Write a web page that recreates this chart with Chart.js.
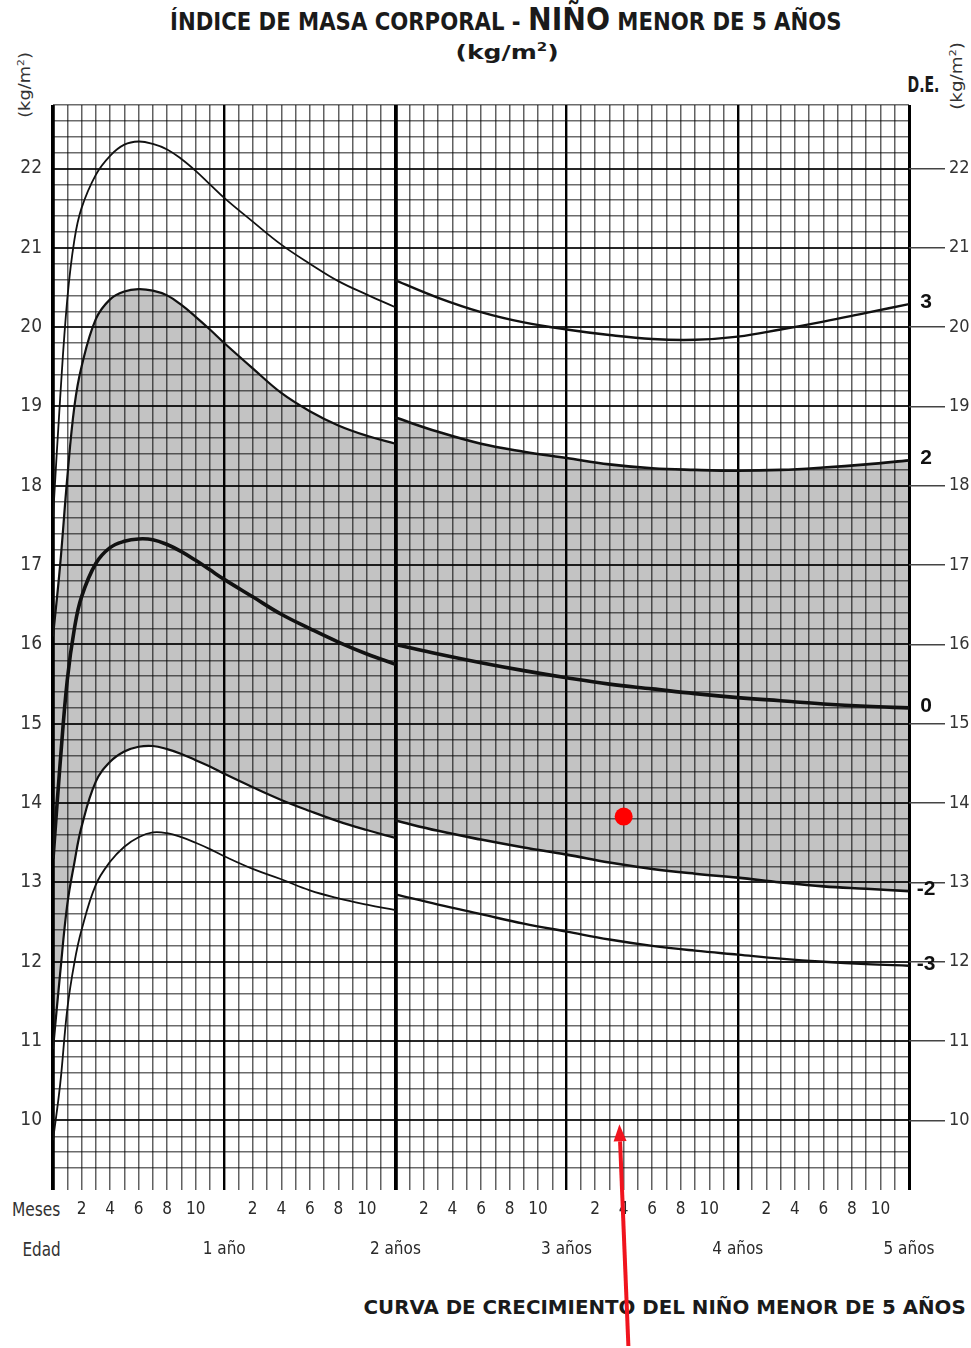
<!DOCTYPE html>
<html lang="es">
<head>
<meta charset="utf-8">
<title>Índice de masa corporal - niño menor de 5 años</title>
<script src="https://cdn.jsdelivr.net/npm/chart.js@4"></script>
<style>
  html, body { margin: 0; padding: 0; background: #fff; }
  body { width: 971px; height: 1348px; position: relative; overflow: hidden; }
  #grafico { position: absolute; left: 0; top: 0; z-index: 1; }
  .txt {
    position: absolute; white-space: nowrap; z-index: 0; color: #1a1a1a; line-height: 1;
    font-family: 'Liberation Sans Narrow', 'DejaVu Sans Condensed', 'Liberation Sans', Arial, sans-serif;
  }
  .tit { font-size: 24px; font-weight: bold; }
  .tit .nino { font-size: 32px; font-weight: 900; }
  .uni { font-size: 20px; font-weight: bold; }
  .lat { font-size: 15px; color: #333; }
  .de { font-size: 21px; font-weight: bold; }
  .eje { font-size: 20px; color: #333; }
  .pie { font-size: 19px; font-weight: bold; font-family: 'DejaVu Sans', 'Liberation Sans', Arial, sans-serif; }
  sup { font-size: 60%; }
</style>
</head>
<body>
<div id="titulo" class="txt tit">ÍNDICE DE MASA CORPORAL - <span class="nino">NIÑO</span> MENOR DE 5 AÑOS</div>
<div id="unidad" class="txt uni">(kg/m<sup>2</sup>)</div>
<div id="ejeIzq" class="txt lat">(kg/m<sup>2</sup>)</div>
<div id="ejeDer" class="txt lat">(kg/m<sup>2</sup>)</div>
<div id="de" class="txt de">D.E.</div>
<div id="meses" class="txt eje">Meses</div>
<div id="edad" class="txt eje">Edad</div>
<div id="pie" class="txt pie">CURVA DE CRECIMIENTO DEL NIÑO MENOR DE 5 AÑOS</div>
<canvas id="grafico" width="971" height="1348"></canvas>
<script>
// edades en meses, tramo 0-2 años (longitud) y tramo 2-5 años (talla)
const mesesA = [0, 0.5, 1, 1.5, 2, 3, 4, 5, 6, 7, 8, 9, 10, 11, 12, 14, 16, 18, 20, 22, 24];
const de3A = [17.6, 19.1, 20.35, 21.1, 21.5, 21.92, 22.16, 22.3, 22.34, 22.31, 22.24, 22.12, 21.97, 21.8, 21.63, 21.33, 21.04, 20.8, 20.58, 20.41, 20.25];
const de2A = [16.1, 17.0, 18.1, 19.0, 19.5, 20.1, 20.35, 20.45, 20.48, 20.46, 20.4, 20.28, 20.13, 19.97, 19.8, 19.48, 19.17, 18.94, 18.76, 18.63, 18.53];
const de0A = [13.3, 14.5, 15.55, 16.2, 16.6, 17.02, 17.22, 17.3, 17.33, 17.32, 17.26, 17.17, 17.06, 16.94, 16.82, 16.6, 16.38, 16.2, 16.03, 15.88, 15.75];
const deM2A = [10.9, 11.85, 12.72, 13.25, 13.7, 14.27, 14.52, 14.65, 14.71, 14.72, 14.68, 14.62, 14.54, 14.46, 14.37, 14.2, 14.04, 13.9, 13.77, 13.66, 13.56];
const deM3A = [9.75, 10.45, 11.4, 11.99, 12.4, 12.97, 13.26, 13.45, 13.57, 13.63, 13.62, 13.57, 13.5, 13.42, 13.33, 13.17, 13.04, 12.9, 12.8, 12.72, 12.65];

const mesesB = [24, 27, 30, 33, 36, 39, 42, 45, 48, 51, 54, 57, 60];
const de3B = [20.59, 20.37, 20.19, 20.06, 19.97, 19.9, 19.85, 19.84, 19.88, 19.97, 20.07, 20.18, 20.29];
const de2B = [18.86, 18.68, 18.53, 18.43, 18.35, 18.27, 18.22, 18.2, 18.19, 18.2, 18.23, 18.27, 18.32];
const de0B = [16.0, 15.88, 15.77, 15.67, 15.58, 15.5, 15.44, 15.38, 15.33, 15.29, 15.25, 15.22, 15.2];
const deM2B = [13.78, 13.65, 13.54, 13.44, 13.35, 13.25, 13.17, 13.11, 13.06, 13.0, 12.95, 12.92, 12.89];
const deM3B = [12.85, 12.72, 12.6, 12.48, 12.38, 12.28, 12.2, 12.14, 12.09, 12.04, 12.0, 11.97, 11.95];

const etiquetasDE = ['3', '2', '0', '-2', '-3'];
const etiquetasMes = ['2', '4', '6', '8', '10'];
const etiquetasAnio = ['1 año', '2 años', '3 años', '4 años', '5 años'];

// punto marcado y flecha roja
const edadPunto = [40];
const imcPunto = [13.83];
const flechaEdad = 39.7;
const flechaImc = 9.95;

const fuenteEstrecha = "'Liberation Sans Narrow', 'DejaVu Sans Condensed', 'Liberation Sans', Arial, sans-serif";
const gris = '#c3c3c3';
const negro = '#111';

function serie(meses, valores) {
  return meses.map((m, i) => ({ x: m, y: valores[i] }));
}

function curva(meses, valores, ancho, extra) {
  return Object.assign({
    data: serie(meses, valores),
    borderColor: negro,
    borderWidth: ancho,
    pointRadius: 0,
    fill: false,
    tension: 0.4
  }, extra || {});
}

function esEntero(v) {
  return Math.abs(v - Math.round(v)) < 1e-6;
}

const rotulos = {
  id: 'rotulos',
  afterDatasetsDraw(chart) {
    const ctx = chart.ctx;
    ctx.save();
    ctx.font = "bold 21px 'Liberation Sans', Arial, sans-serif";
    ctx.fillStyle = '#111';
    ctx.textAlign = 'center';
    ctx.textBaseline = 'middle';
    chart.data.datasets.forEach((ds, i) => {
      if (!ds.rotulo) return;
      const pts = chart.getDatasetMeta(i).data;
      const p = pts[pts.length - 1];
      ctx.fillText(ds.rotulo, p.x + 17, p.y - 2);
    });
    ctx.restore();
  },
  afterDraw(chart) {
    const ctx = chart.ctx;
    const xp = chart.scales.x.getPixelForValue(flechaEdad);
    const yp = chart.scales.y.getPixelForValue(flechaImc);
    const xc = xp + 9;
    const yc = chart.height - 2;
    const ang = Math.atan2(yp - yc, xp - xc);
    const largo = 17;
    const bx = xp - Math.cos(ang) * largo;
    const by = yp - Math.sin(ang) * largo;
    ctx.save();
    ctx.strokeStyle = '#f0141e';
    ctx.fillStyle = '#f0141e';
    ctx.lineWidth = 4;
    ctx.beginPath();
    ctx.moveTo(xc, yc);
    ctx.lineTo(bx, by);
    ctx.stroke();
    ctx.beginPath();
    ctx.moveTo(xp, yp);
    ctx.lineTo(bx + Math.sin(ang) * 6.5, by - Math.cos(ang) * 6.5);
    ctx.lineTo(bx - Math.sin(ang) * 6.5, by + Math.cos(ang) * 6.5);
    ctx.closePath();
    ctx.fill();
    ctx.restore();
  }
};

const datasets = [
  curva(mesesA, de3A, 1.8),
  curva(mesesA, de2A, 2.2, { fill: 3, backgroundColor: gris }),
  curva(mesesA, de0A, 3.6),
  curva(mesesA, deM2A, 2.2),
  curva(mesesA, deM3A, 1.8),
  curva(mesesB, de3B, 2.4, { rotulo: etiquetasDE[0] }),
  curva(mesesB, de2B, 2.6, { fill: 8, backgroundColor: gris, rotulo: etiquetasDE[1] }),
  curva(mesesB, de0B, 3.6, { rotulo: etiquetasDE[2] }),
  curva(mesesB, deM2B, 2.6, { rotulo: etiquetasDE[3] }),
  curva(mesesB, deM3B, 2.4, { rotulo: etiquetasDE[4] }),
  {
    type: 'scatter',
    data: serie(edadPunto, imcPunto),
    pointRadius: 9,
    pointBackgroundColor: '#ff0000',
    pointBorderWidth: 0,
    fill: false
  }
];

function etiquetaX(v) {
  if (v > 0 && v % 12 === 0) return ['', etiquetasAnio[v / 12 - 1]];
  if (v % 2 === 0 && v % 12 !== 0) return etiquetasMes[(v % 12) / 2 - 1];
  return '';
}

function anchoVertical(ctx) {
  const v = ctx.tick.value;
  if (v === 0 || v === 24) return 3.8;
  if (v === 60) return 3;
  if (v % 12 === 0) return 2.4;
  return 1.5;
}

new Chart(document.getElementById('grafico'), {
  type: 'line',
  data: { datasets },
  plugins: [rotulos],
  options: {
    responsive: false,
    animation: false,
    events: [],
    layout: { padding: { top: 105, left: 0, right: 0, bottom: 0 } },
    plugins: {
      legend: { display: false },
      tooltip: { enabled: false },
      filler: { drawTime: 'beforeDraw' }
    },
    scales: {
      x: {
        type: 'linear',
        min: 0,
        max: 60,
        border: { display: false },
        afterFit(s) { s.height = 180; },
        grid: {
          color: (c) => (c.tick.value % 12 === 0 ? '#000' : 'rgba(0,0,0,0.62)'),
          lineWidth: anchoVertical,
          tickLength: 22
        },
        ticks: {
          stepSize: 1,
          autoSkip: false,
          maxRotation: 0,
          padding: 0,
          color: '#2a2a2a',
          font: { family: fuenteEstrecha, size: 17, lineHeight: '40px' },
          callback: (v) => etiquetaX(v)
        }
      },
      y: {
        min: 9.4,
        max: 22.8,
        border: { display: false },
        afterFit(s) { s.width = 53; },
        grid: {
          color: (c) => (esEntero(c.tick.value) ? 'rgba(0,0,0,0.85)' : 'rgba(0,0,0,0.58)'),
          lineWidth: (c) => (esEntero(c.tick.value) ? 1.9 : 1.4),
          drawTicks: false
        },
        ticks: {
          stepSize: 0.2,
          autoSkip: false,
          padding: 11,
          color: '#333',
          font: { family: fuenteEstrecha, size: 19 },
          callback: (v) => (esEntero(v) && v >= 10 && v <= 22 ? String(Math.round(v)) : '')
        }
      },
      y2: {
        position: 'right',
        min: 9.4,
        max: 22.8,
        border: { display: false },
        afterFit(s) { s.width = 62; },
        grid: {
          drawOnChartArea: false,
          color: (c) => (esEntero(c.tick.value) ? '#444' : 'rgba(0,0,0,0)'),
          lineWidth: 1.5,
          tickLength: 36
        },
        ticks: {
          stepSize: 1,
          autoSkip: false,
          padding: 4,
          color: '#333',
          font: { family: fuenteEstrecha, size: 18 },
          callback: (v) => (esEntero(v) && v >= 10 && v <= 22 ? String(Math.round(v)) : '')
        }
      }
    }
  }
});

// coloca un texto centrado en (cx, cy) y lo estira/encoge hasta el ancho indicado
function colocar(id, cx, cy, ancho, giro) {
  const el = document.getElementById(id);
  const w = el.offsetWidth;
  const h = el.offsetHeight;
  const sx = ancho ? ancho / w : 1;
  el.style.left = (cx - w / 2) + 'px';
  el.style.top = (cy - h / 2) + 'px';
  el.style.transform = (giro ? `rotate(${giro}deg) ` : '') + `scaleX(${sx})`;
}

colocar('titulo', 506, 19, 672);
colocar('unidad', 507, 51, 103);
colocar('ejeIzq', 25, 85, 66, -90);
colocar('ejeDer', 957, 76, 68, -90);
colocar('de', 923, 85, 32);
colocar('meses', 36, 1209, 48);
colocar('edad', 41, 1249, 38);
colocar('pie', 664, 1307, 602);
</script>
</body>
</html>
